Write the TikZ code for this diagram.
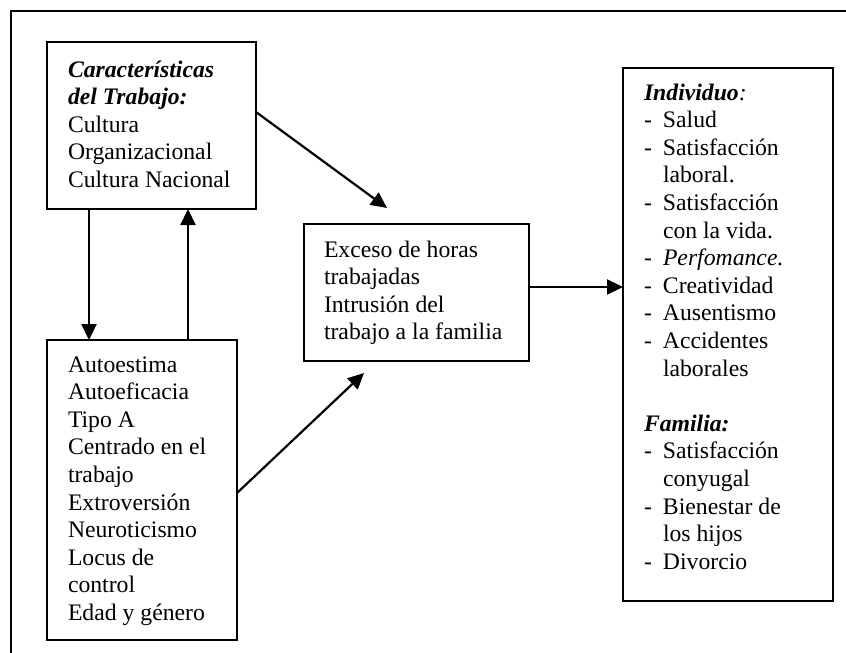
\documentclass[tikz,border=0pt]{standalone}
\usepackage{fontspec}
\setmainfont{Liberation Serif}
\usetikzlibrary{arrows.meta}
\tikzset{
  box/.style={draw, line width=2pt, anchor=north west, inner sep=0pt, outer sep=0pt},
  txt/.style={anchor=base west, inner sep=0pt, outer sep=0pt, font=\fontsize{23.7}{27.6}\selectfont},
  frameline/.style={line width=2pt},
  arr/.style={line width=2.2pt, -{Triangle[length=16pt,width=15pt]}}
}
\newcommand{\bi}[1]{\textbf{\textit{#1}}}
\begin{document}
\begin{tikzpicture}[x=1pt,y=-1pt]
\useasboundingbox (0,0) rectangle (846,653);
% outer frame (top and left)
\coordinate (fa) at (846,11);
\coordinate (fb) at (11,11);
\coordinate (fc) at (11,653);
\draw[frameline] (fa) -- (fb) -- (fc);
% boxes
\node[box, minimum width=209pt, minimum height=167pt] (b1) at (47,42) {};
\node[box, minimum width=190pt, minimum height=300pt] (b2) at (47,340) {};
\node[box, minimum width=225pt, minimum height=137pt] (b3) at (304,224) {};
\node[box, minimum width=210pt, minimum height=533pt] (b4) at (623,68) {};
% texts
\node[txt] (t1) at (68,77) {\begin{tabular}[t]{@{}l@{}}
\bi{Características}\\
\bi{del Trabajo:}\\
Cultura\\
Organizacional\\
Cultura Nacional
\end{tabular}};
\node[txt] (t2) at (68,372) {\begin{tabular}[t]{@{}l@{}}
Autoestima\\
Autoeficacia\\
Tipo A\\
Centrado en el\\
trabajo\\
Extroversión\\
Neuroticismo\\
Locus de\\
control\\
Edad y género
\end{tabular}};
\node[txt] (t3) at (324,257) {\begin{tabular}[t]{@{}l@{}}
Exceso de horas\\
trabajadas\\
Intrusión del\\
trabajo a la familia
\end{tabular}};
\node[txt] (t4) at (644,100) {\begin{tabular}[t]{@{}p{19pt}@{}l@{}}
\multicolumn{2}{@{}l@{}}{\bi{Individuo}\textit{:}}\\
- & Salud\\
- & Satisfacción\\
  & laboral.\\
- & Satisfacción\\
  & con la vida.\\
- & \textit{Perfomance.}\\
- & Creatividad\\
- & Ausentismo\\
- & Accidentes\\
  & laborales\\
  & \\
\multicolumn{2}{@{}l@{}}{\bi{Familia:}}\\
- & Satisfacción\\
  & conyugal\\
- & Bienestar de\\
  & los hijos\\
- & Divorcio
\end{tabular}};
% connectors
\draw[arr] ([yshift=-70pt]b1.north east) -- ([xshift=83pt,yshift=16pt]b3.north west);
\draw[arr] ([yshift=-153pt]b2.north east) -- ([xshift=60pt,yshift=-12pt]b3.south west);
\draw[arr] ([yshift=5.5pt]b3.east) -- ([yshift=5.5pt]b3.east -| b4.west);
\draw[arr] ([xshift=42pt]b1.south west) -- ([xshift=42pt]b2.north west);
\draw[arr] ([xshift=141pt]b2.north west) -- ([xshift=141pt]b1.south west);
\end{tikzpicture}
\end{document}
